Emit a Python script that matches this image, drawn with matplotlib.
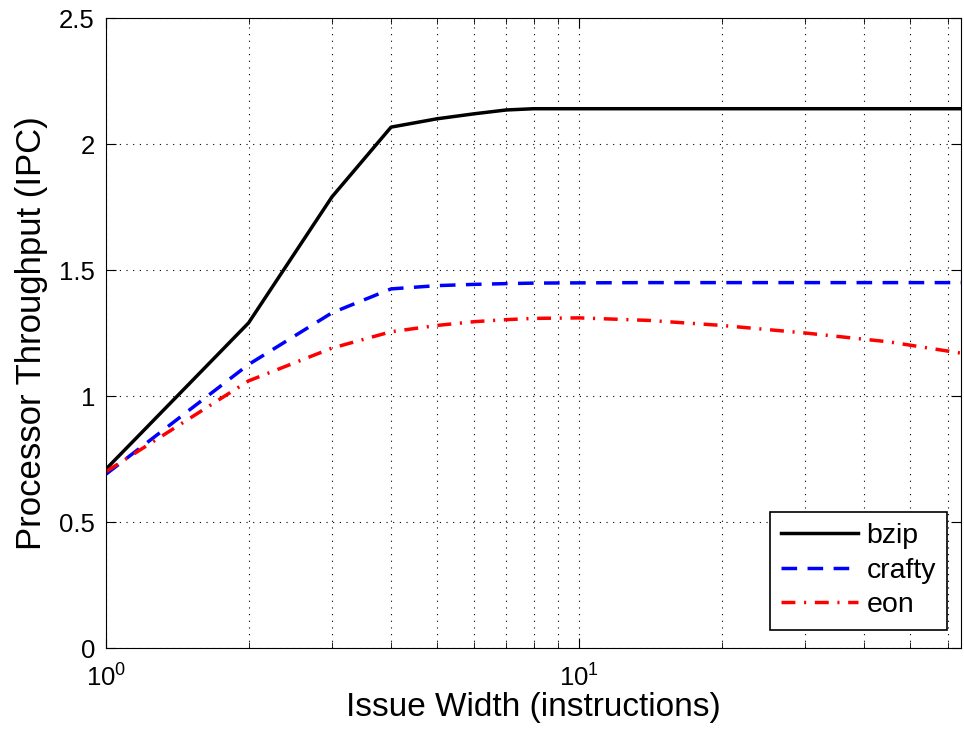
import matplotlib
matplotlib.use('Agg')
import matplotlib.pyplot as plt
from matplotlib.ticker import LogLocator, NullFormatter, MultipleLocator, FuncFormatter

plt.rcParams['font.family'] = ['Liberation Sans', 'DejaVu Sans']
plt.rcParams['mathtext.fontset'] = 'custom'
plt.rcParams['mathtext.rm'] = 'Liberation Sans'

# issue width (instructions)
width = [1, 2, 3, 4, 5, 6, 7, 8, 10, 14, 20, 30, 45, 64]

# IPC per benchmark
bzip = [0.71, 1.29, 1.79, 2.067, 2.10, 2.12, 2.135, 2.14, 2.14, 2.14, 2.14, 2.14, 2.14, 2.14]
crafty = [0.69, 1.125, 1.33, 1.425, 1.438, 1.443, 1.446, 1.448, 1.449, 1.45, 1.45, 1.45, 1.45, 1.45]
eon = [0.70, 1.06, 1.19, 1.255, 1.28, 1.295, 1.303, 1.308, 1.31, 1.30, 1.28, 1.25, 1.215, 1.17]


def main():
    fig = plt.figure(figsize=(9.64, 7.41), dpi=100)
    ax = fig.add_axes([0.110, 0.1255, 0.887, 0.8502])

    ax.semilogx(width, bzip, color='black', lw=2.5, label='bzip')
    ax.semilogx(width, crafty, color='blue', lw=2.5, ls=(0, (4.5, 3)), label='crafty')
    ax.semilogx(width, eon, color='red', lw=2.5, ls=(0, (4, 2.5, 0.6, 2.5)), label='eon')

    ax.set_xlim(1, 64)
    ax.set_ylim(0, 2.5)
    ax.yaxis.set_major_locator(MultipleLocator(0.5))
    ax.yaxis.set_major_formatter(FuncFormatter(lambda v, p: '%g' % v))
    ax.xaxis.set_major_locator(LogLocator(base=10))
    ax.xaxis.set_minor_locator(LogLocator(base=10, subs=range(2, 10)))
    ax.xaxis.set_minor_formatter(NullFormatter())

    ax.grid(True, which='major', color='black', ls=(0, (1, 5)), lw=0.8)
    ax.grid(True, which='minor', axis='x', color='black', ls=(0, (1, 5)), lw=0.8)

    ax.tick_params(which='both', direction='in', top=True, right=True, labelsize=18.5)
    ax.tick_params(which='major', length=7)
    ax.tick_params(which='minor', length=4)
    ax.tick_params(axis='x', pad=12)
    ax.tick_params(axis='y', pad=8)

    ax.set_xlabel('Issue Width (instructions)', fontsize=24, labelpad=0)
    ax.set_ylabel('Processor Throughput (IPC)', fontsize=25, labelpad=8)

    leg = ax.legend(loc='lower right', bbox_to_anchor=(0.984, 0.029), fontsize=20.5,
                    fancybox=False, edgecolor='black', framealpha=1, handlelength=2.7,
                    handletextpad=0.3, borderaxespad=0, labelspacing=0.3, borderpad=0.4)
    leg.get_frame().set_linewidth(1.2)

    fig.savefig('out.png', dpi=100)


if __name__ == "__main__":
    main()
